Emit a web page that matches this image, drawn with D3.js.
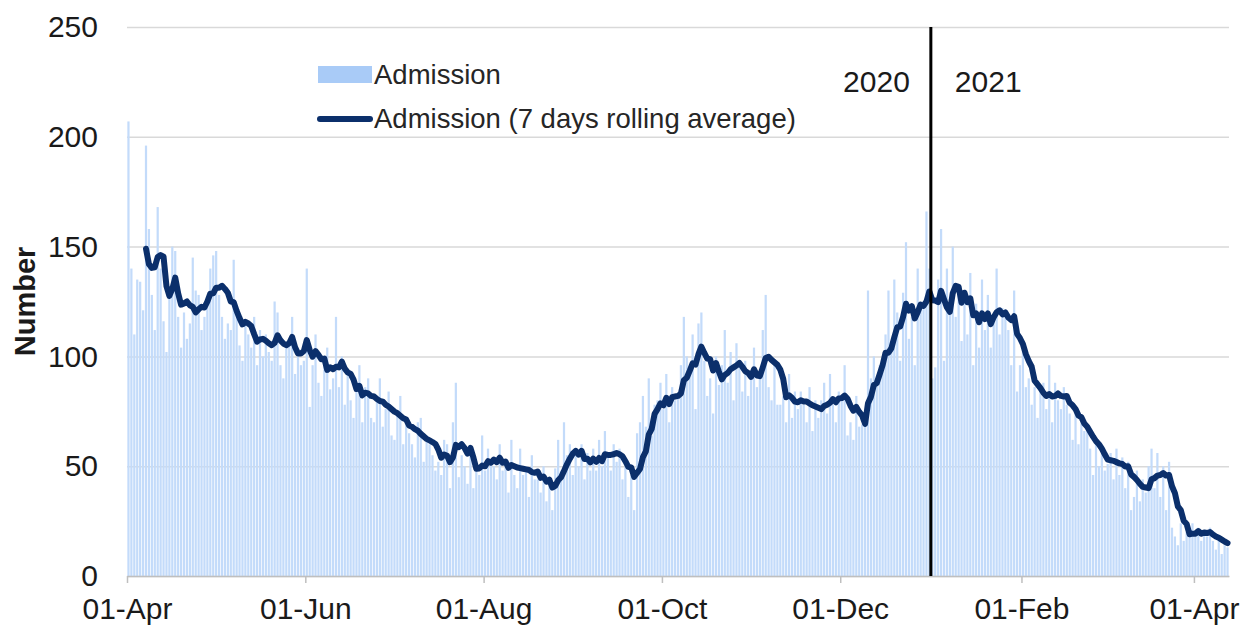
<!DOCTYPE html>
<html>
<head>
<meta charset="utf-8">
<script src="https://cdn.jsdelivr.net/npm/d3@7"></script>
<style>
  body { margin: 0; background: #fff; }
  text { font-family: "Liberation Sans", Arial, sans-serif; }
</style>
</head>
<body>
<div id="chart"></div>
<script>
// Daily admissions from 01-Apr-2020, one value per day
const startDate = "2020-04-01"
const admissions = [
  207, 140, 110, 135, 134, 121, 196,
  158, 128, 112, 168, 140, 116, 102,
  127, 150, 148, 118, 104, 120, 108,
  115, 145, 130, 128, 112, 118, 127,
  140, 146, 148, 128, 118, 108, 115,
  112, 144, 120, 105, 98, 116, 110,
  104, 118, 96, 112, 100, 110, 102,
  98, 125, 120, 96, 90, 105, 108,
  118, 92, 100, 96, 98, 140, 77,
  96, 110, 88, 82, 100, 104, 85,
  90, 118, 86, 100, 78, 92, 80,
  72, 88, 96, 70, 86, 90, 72,
  70, 80, 90, 68, 76, 84, 64,
  62, 75, 82, 60, 72, 65, 60,
  54, 70, 72, 52, 64, 60, 55,
  48, 52, 46, 62, 60, 40, 70,
  88, 45, 55, 50, 42, 58, 40,
  52, 46, 64, 48, 58, 53, 50,
  44, 60, 48, 52, 38, 62, 46,
  40, 58, 46, 50, 36, 55, 44,
  44, 38, 50, 34, 42, 30, 49,
  62, 48, 70, 55, 60, 46, 58,
  50, 60, 44, 56, 48, 58, 48,
  62, 50, 66, 54, 48, 60, 52,
  58, 44, 50, 36, 46, 30, 65,
  70, 82, 68, 90, 64, 78, 80,
  88, 76, 92, 70, 86, 80, 82,
  96, 118, 100, 92, 110, 76, 115,
  120, 98, 82, 90, 74, 100, 87,
  96, 112, 88, 102, 80, 106, 95,
  84, 98, 82, 90, 104, 86, 93,
  112, 128, 86, 80, 96, 78, 78,
  82, 70, 92, 72, 84, 76, 84,
  78, 70, 86, 66, 80, 72, 80,
  88, 74, 92, 78, 70, 84, 81,
  96, 64, 70, 62, 82, 68, 69,
  70, 130, 90, 100, 88, 96, 98,
  110, 130, 104, 135, 120, 98, 129,
  152, 108, 118, 96, 140, 122, 125,
  166, 140, 90, 95, 135, 158, 98,
  140, 126, 150, 118, 132, 107, 130,
  110, 138, 96, 124, 104, 135, 112,
  128, 104, 118, 140, 110, 122, 118,
  112, 96, 130, 84, 96, 103, 86,
  90, 78, 86, 72, 84, 88, 76,
  96, 70, 88, 80, 76, 86, 78,
  74, 62, 76, 60, 70, 66, 68,
  58, 46, 62, 50, 56, 48, 51,
  56, 44, 58, 46, 54, 40, 52,
  30, 36, 48, 34, 44, 38, 50,
  58, 40, 56, 36, 50, 30, 52,
  22, 18, 14, 24, 16, 20, 19,
  24, 18, 22, 16, 20, 18, 22,
  16, 12, 18, 10, 14, 13
]
const xTicks = ["2020-04-01", "2020-06-01", "2020-08-01", "2020-10-01", "2020-12-01", "2021-02-01", "2021-04-01"]
const yTicks = [0, 50, 100, 150, 200, 250]
const yearSplit = "2021-01-01"
const yearLabels = ["2020", "2021"]
const legendLabels = ["Admission", "Admission (7 days rolling average)"]
const yLabel = "Number"

const width = 1242
const height = 627
const margin = {top: 27, bottom: 51, left: 127, right: 13}
const netWidth = width - margin.left - margin.right
const netHeight = height - margin.top - margin.bottom

const parse = d3.utcParse("%Y-%m-%d")
const start = parse(startDate)
const data = admissions.map((v, i) => ({date: d3.utcDay.offset(start, i), value: v}))
const end = d3.utcDay.offset(start, admissions.length)

// 7 days rolling average (trailing window)
const rolling = data.slice(6).map((d, i) => ({
  date: d.date,
  value: d3.mean(admissions.slice(i, i + 7))
}))

const svg = d3.select("div#chart").append("svg").attr("width", width).attr("height", height)
const elementGroup = svg.append("g").attr("transform", `translate(${margin.left}, ${margin.top})`)

const x = d3.scaleUtc().domain([start, end]).range([0, netWidth])
const y = d3.scaleLinear().domain([0, 250]).range([netHeight, 0])
const step = x(d3.utcDay.offset(start, 1)) - x(start)

// Gridlines + y labels
const yAxis = d3.axisLeft(y).tickValues(yTicks).tickSize(-netWidth).tickPadding(29)
const yAxisGroup = elementGroup.append("g").call(yAxis)
yAxisGroup.select(".domain").remove()
yAxisGroup.selectAll(".tick line").attr("stroke", "#d9d9d9").attr("stroke-width", 1.5)
yAxisGroup.selectAll(".tick text").attr("font-size", 30).attr("fill", "#1a1a1a")
  .style("font-family", "'Liberation Sans', Arial, sans-serif")

// Bars
elementGroup.append("g").selectAll("rect")
  .data(data)
  .enter().append("rect")
  .attr("x", d => x(d.date) + step * 0.12)
  .attr("y", d => y(d.value))
  .attr("width", step * 0.76)
  .attr("height", d => netHeight - y(d.value))
  .attr("fill", "#c3dbfa")

// X axis
const xAxis = d3.axisBottom(x)
  .tickValues(xTicks.map(parse))
  .tickFormat(d3.utcFormat("%d-%b"))
  .tickSize(7).tickSizeOuter(0).tickPadding(15)
const xAxisGroup = elementGroup.append("g").attr("transform", `translate(0, ${netHeight})`).call(xAxis)
xAxisGroup.select(".domain").attr("stroke", "#bfbfbf").attr("stroke-width", 1.5)
xAxisGroup.selectAll(".tick line").attr("stroke", "#bfbfbf").attr("stroke-width", 1.5)
xAxisGroup.selectAll(".tick text").attr("font-size", 30).attr("fill", "#1a1a1a")
  .style("font-family", "'Liberation Sans', Arial, sans-serif")

// Rolling average line
const line = d3.line().x(d => x(d.date) + step / 2).y(d => y(d.value))
elementGroup.append("path")
  .datum(rolling)
  .attr("d", line)
  .attr("fill", "none")
  .attr("stroke", "#0b2f6b")
  .attr("stroke-width", 6)
  .attr("stroke-linejoin", "round")
  .attr("stroke-linecap", "round")

// Year split
const xSplit = x(parse(yearSplit))
elementGroup.append("line")
  .attr("x1", xSplit).attr("x2", xSplit)
  .attr("y1", 0).attr("y2", netHeight)
  .attr("stroke", "#000").attr("stroke-width", 3)
elementGroup.append("text").attr("x", xSplit - 21).attr("y", 65)
  .attr("text-anchor", "end").attr("font-size", 30).attr("fill", "#1a1a1a").text(yearLabels[0])
elementGroup.append("text").attr("x", xSplit + 24).attr("y", 65)
  .attr("font-size", 30).attr("fill", "#1a1a1a").text(yearLabels[1])

// Legend
const legend = svg.append("g").attr("transform", "translate(318, 0)")
legend.append("rect").attr("x", 0).attr("y", 66).attr("width", 54).attr("height", 17).attr("fill", "#a9cbf7")
legend.append("text").attr("x", 56).attr("y", 84).attr("font-size", 27.5).attr("fill", "#262626").text(legendLabels[0])
legend.append("line").attr("x1", 2).attr("x2", 52).attr("y1", 119).attr("y2", 119)
  .attr("stroke", "#0b2f6b").attr("stroke-width", 6).attr("stroke-linecap", "round")
legend.append("text").attr("x", 56).attr("y", 128).attr("font-size", 27.5).attr("fill", "#262626").text(legendLabels[1])

// Y axis title
svg.append("text")
  .attr("transform", `translate(35, ${margin.top + netHeight / 2}) rotate(-90)`)
  .attr("text-anchor", "middle")
  .attr("font-size", 29).attr("font-weight", "bold").attr("fill", "#1a1a1a")
  .text(yLabel)
</script>
</body>
</html>
